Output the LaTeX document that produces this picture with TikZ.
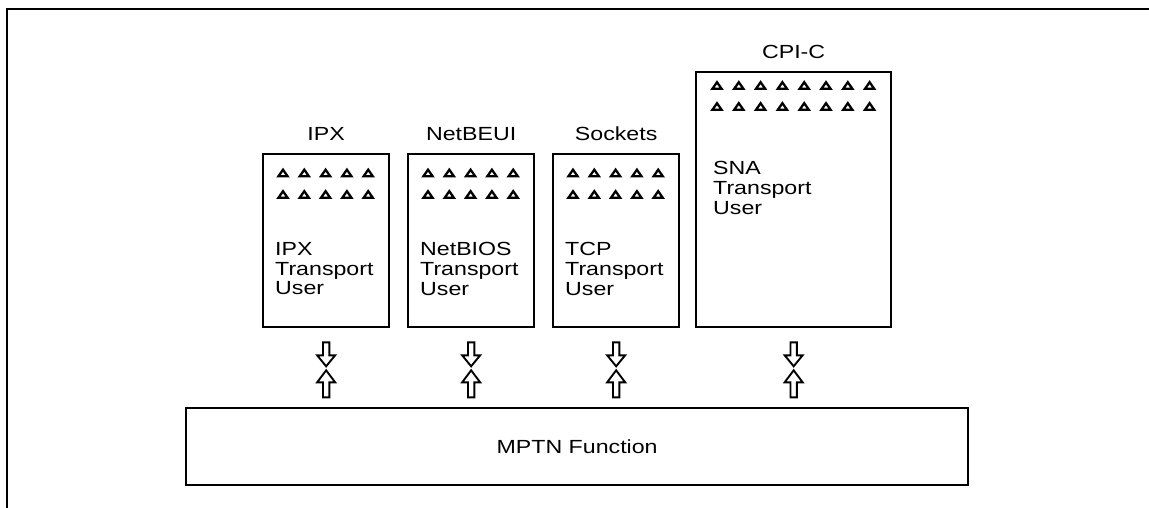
\documentclass[tikz,border=0pt]{standalone}
\usepackage{fontspec}
\setmainfont[FakeStretch=1.22]{Liberation Sans}
\usetikzlibrary{calc}
\tikzset{
  every node/.style={font=\fontsize{19}{19.8}\selectfont},
  box/.style={draw, line width=2.3pt, rectangle, inner sep=0pt, anchor=north west},
  tri/.style={line width=2.3pt, line join=miter},
  blockarrow/.style={draw, line width=1.9pt, fill=white, line join=miter},
  body/.style={anchor=north west, inner sep=0pt, align=left},
  caption/.style={anchor=base, inner sep=0pt},
  frame/.style={line width=2.4pt},
  % pair of hollow block arrows below a box: down, then up
  updown/.pic={
    \draw[blockarrow] (-3.2,14) -- (-3.2,27) -- (-9,27) -- (0,38) -- (9,27) -- (3.2,27) -- (3.2,14) -- cycle;
    \draw[blockarrow] (0,42) -- (-9,54) -- (-3.2,54) -- (-3.2,69) -- (3.2,69) -- (3.2,54) -- (9,54) -- cycle;
  }
}
\newcommand{\trirow}[4]{% x0, y, spacing, count
  \foreach \i in {1,...,#4}{
    \pgfmathsetmacro{\cx}{#1+(\i-1)*#3}
    \draw[tri] (\cx-4.6,#2+3.3) -- (\cx,#2-3.3) -- (\cx+4.6,#2+3.3) -- cycle;
  }
}
\begin{document}
\begin{tikzpicture}[x=1pt,y=-1pt]
  \useasboundingbox (0,0) rectangle (1149,508);

  % outer frame (top and left edges only)
  \draw[frame] (7,508) -- (7,9) -- (1149,9);

  % transport user boxes
  \node[box, minimum width=126, minimum height=173] (ipx) at (262,153) {};
  \node[box, minimum width=126, minimum height=173] (netbeui) at (407,153) {};
  \node[box, minimum width=126, minimum height=173] (sockets) at (552,153) {};
  \node[box, minimum width=195, minimum height=255] (cpic) at (695,71) {};

  % API names above the boxes
  \node[caption] (ipxlbl) at (ipx.north |- 0,141) {IPX};
  \node[caption] (netbeuilbl) at (netbeui.north |- 0,141) {NetBEUI};
  \node[caption] (socketslbl) at (sockets.north |- 0,141) {Sockets};
  \node[caption] (cpiclbl) at (cpic.north |- 0,59) {CPI-C};

  % application rows
  \trirow{283}{173}{21.3}{5}
  \trirow{283}{194.5}{21.3}{5}
  \trirow{428}{173}{21.3}{5}
  \trirow{428}{194.5}{21.3}{5}
  \trirow{573}{173}{21.3}{5}
  \trirow{573}{194.5}{21.3}{5}
  \trirow{717}{85.5}{21.8}{8}
  \trirow{717}{106.5}{21.8}{8}

  % box texts
  \node[body] (ipxtxt) at (275,242) {IPX\\Transport\\User};
  \node[body] (netbeuitxt) at (420,242) {NetBIOS\\Transport\\User};
  \node[body] (socketstxt) at (565,242) {TCP\\Transport\\User};
  \node[body] (cpictxt) at (713,161) {SNA\\Transport\\User};

  % MPTN layer
  \node[box, minimum width=782, minimum height=77] (mptn) at (185,407) {MPTN Function};

  % interfaces between the boxes and MPTN
  \pic at (ipx.south) {updown};
  \pic at (netbeui.south) {updown};
  \pic at (sockets.south) {updown};
  \pic at (cpic.south) {updown};
\end{tikzpicture}
\end{document}
